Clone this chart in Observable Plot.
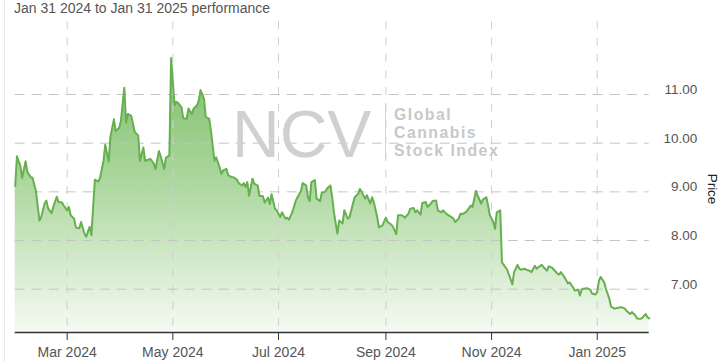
<!DOCTYPE html>
<html>
<head>
<meta charset="utf-8">
<script src="https://cdn.jsdelivr.net/npm/d3@7"></script>
<script src="https://cdn.jsdelivr.net/npm/@observablehq/plot@0.6"></script>
<style>
  html, body { margin: 0; padding: 0; background: #fff; }
  #wrap { position: relative; width: 724px; height: 362px; overflow: hidden; font-family: "Liberation Sans", Arial, sans-serif; }
  #border { position: absolute; left: 4px; top: 0; width: 0; height: 362px; border-left: 1px solid #e8e8e8; }
  #subtitle { position: absolute; left: 14px; top: 0px; font-size: 14px; line-height: 16px; color: #555; white-space: nowrap; }
  #ncv { position: absolute; left: 232px; top: 101px; font-size: 66px; line-height: 66px; color: #d0d0d0; white-space: nowrap; }
  #sep { position: absolute; left: 385px; top: 103px; width: 0; height: 55px; border-left: 1.5px solid #d4d4d4; }
  .gl { position: absolute; left: 394px; font-size: 15.8px; line-height: 17.6px; height: 17.6px; letter-spacing: 1.5px; font-weight: bold; color: #c8c8c8; white-space: nowrap; }
  #chart { position: absolute; left: 0; top: 0; }
</style>
</head>
<body>
<div id="wrap">
  <div id="border"></div>
  <div id="chart"></div>
  <div id="ncv">NCV</div>
  <div id="sep"></div>
  <div class="gl" style="top:106.3px">Global</div>
  <div class="gl" style="top:124px">Cannabis</div>
  <div class="gl" style="top:141.7px">Stock Index</div>
  <div id="subtitle">Jan 31 2024 to Jan 31 2025 performance</div>
</div>
<script>
// Day offsets from Jan 31 2024 and closing prices
const startDate = "2024-01-31";
const endDate = "2025-01-31";
const dayOffsets = [0,1,3,4,6,7,9,10,12,14,15,17,18,19,21,22,24,25,27,28,30,31,32,34,35,37,38,40,41,43,44,45,46,48,49,51,52,54,55,57,58,60,61,63,64,65,67,68,69,71,72,74,75,77,78,80,81,83,84,86,87,89,90,92,93,94,96,97,99,100,102,103,105,106,107,109,110,112,113,115,116,118,119,120,122,123,125,126,128,129,131,132,133,134,135,137,138,140,141,143,144,146,147,148,150,151,153,154,156,157,158,160,162,163,165,166,168,169,170,171,173,174,176,177,179,180,182,183,184,186,187,189,190,192,193,195,196,198,199,200,202,203,205,206,207,209,210,212,214,215,217,218,220,221,223,224,225,227,228,230,231,232,234,235,237,238,240,241,243,244,246,247,248,250,251,253,254,256,257,258,260,261,263,264,266,267,269,270,272,273,274,276,277,278,280,281,283,284,286,287,288,290,291,292,294,295,297,298,300,301,302,304,305,307,308,310,311,313,314,315,317,319,320,322,323,325,326,327,328,330,332,333,335,336,337,338,340,341,343,344,346,348,350,352,353,355,356,358,359,361,362,364,365,366];
const prices = [9.12,9.73,9.53,9.29,9.63,9.41,9.30,9.29,9.01,8.41,8.48,8.76,8.82,8.66,8.56,8.69,8.90,8.79,8.78,8.72,8.62,8.69,8.52,8.45,8.27,8.25,8.38,8.14,8.08,8.28,8.11,8.69,9.25,9.21,9.29,9.64,9.97,9.62,10.14,10.49,10.25,10.31,10.45,11.14,10.42,10.60,10.56,10.40,10.23,10.16,9.64,9.91,9.64,9.66,9.68,9.58,9.47,9.84,9.73,9.47,9.70,9.75,11.75,10.78,10.85,10.83,10.74,10.51,10.50,10.71,10.60,10.71,10.78,10.88,11.09,10.91,10.54,10.50,10.26,9.64,9.71,9.51,9.37,9.44,9.47,9.34,9.30,9.30,9.25,9.18,9.13,9.18,9.10,9.20,8.92,9.27,9.17,9.13,8.92,8.91,8.78,8.88,8.75,8.95,8.65,8.62,8.48,8.58,8.45,8.47,8.43,8.58,8.82,8.89,9.02,9.18,9.13,8.89,8.81,9.20,9.24,8.86,8.81,8.98,9.00,9.07,9.13,8.89,8.58,8.14,8.41,8.35,8.62,8.45,8.48,8.76,8.89,8.96,9.06,9.00,8.86,8.93,8.76,8.89,8.79,8.48,8.27,8.31,8.47,8.38,8.33,8.29,8.13,8.52,8.52,8.50,8.47,8.55,8.65,8.67,8.58,8.62,8.53,8.77,8.79,8.69,8.76,8.81,8.82,8.62,8.58,8.62,8.58,8.52,8.50,8.45,8.38,8.45,8.55,8.54,8.58,8.62,8.72,8.69,9.02,8.92,8.76,8.84,8.89,8.72,8.52,8.38,8.24,8.58,8.62,7.55,7.45,7.40,7.20,7.10,7.35,7.50,7.42,7.40,7.42,7.40,7.38,7.35,7.48,7.42,7.45,7.50,7.45,7.38,7.47,7.44,7.40,7.32,7.30,7.35,7.25,7.12,7.14,7.04,6.97,6.99,6.87,6.99,7.01,7.02,6.99,6.91,6.89,6.94,7.18,7.25,7.14,7.01,6.80,6.64,6.60,6.62,6.63,6.60,6.55,6.49,6.53,6.46,6.40,6.39,6.41,6.49,6.42,6.40];
const xTicks = ["2024-03-01","2024-05-01","2024-07-01","2024-09-01","2024-11-01","2025-01-01"];
const yTicks = [7, 8, 9, 10, 11];
const yDomain = [6.11, 12.5];

const start = new Date(startDate + "T00:00:00Z");
const data = dayOffsets.map((d, i) => ({date: d3.utcDay.offset(start, d), price: prices[i]}));
const xTickDates = xTicks.map(s => new Date(s + "T00:00:00Z"));

const chart = Plot.plot({
  width: 724,
  height: 362,
  marginTop: 21,
  marginBottom: 30,
  marginLeft: 14.7,
  marginRight: 75.3,
  style: {fontFamily: "'Liberation Sans', Arial, sans-serif", background: "transparent", overflow: "visible"},
  x: {type: "utc", domain: [start, new Date(endDate + "T00:00:00Z")]},
  y: {domain: yDomain},
  marks: [
    Plot.areaY(data, {x: "date", y1: yDomain[0], y2: "price", fill: "url(#areaGrad)", curve: "linear"}),
    Plot.gridY(yTicks, {stroke: "#c4c4c4", strokeOpacity: 1, strokeDasharray: "10,7"}),
    Plot.gridX(xTickDates, {stroke: "#cfcfcf", strokeOpacity: 1, strokeDasharray: "8,8.5"}),
    Plot.lineY(data, {x: "date", y: "price", stroke: "#66b04f", strokeWidth: 2, curve: "linear"}),
    Plot.ruleY([yDomain[0]], {stroke: "#333", strokeWidth: 1.3}),
    Plot.axisX(xTickDates, {tickSize: 8, tickPadding: 7, tickFormat: d3.utcFormat("%b %Y"), label: null, fontSize: 14, stroke: "#333", fill: "#555"}),
    Plot.axisY(yTicks, {anchor: "right", tickSize: 0, tickPadding: 0, textAnchor: "end", dx: 48, dy: -5, tickFormat: d3.format(".2f"), label: null, fontSize: 13.5, fill: "#555"}),
    Plot.text(["Price"], {frameAnchor: "right", rotate: 90, dx: 63, dy: 12, fontSize: 13.5, fill: "#222", textAnchor: "middle"})
  ]
});

// gradient for the area fill
const ns = "http://www.w3.org/2000/svg";
const defs = document.createElementNS(ns, "defs");
const grad = document.createElementNS(ns, "linearGradient");
grad.setAttribute("id", "areaGrad");
grad.setAttribute("x1", "0"); grad.setAttribute("y1", "0");
grad.setAttribute("x2", "0"); grad.setAttribute("y2", "1");
[["0", "#7dbf69"], ["0.45", "#acd79e"], ["1", "#f5faf3"]].forEach(([o, c]) => {
  const s = document.createElementNS(ns, "stop");
  s.setAttribute("offset", o);
  s.setAttribute("stop-color", c);
  grad.appendChild(s);
});
defs.appendChild(grad);
chart.insertBefore(defs, chart.firstChild);

document.getElementById("chart").appendChild(chart);
</script>
</body>
</html>
